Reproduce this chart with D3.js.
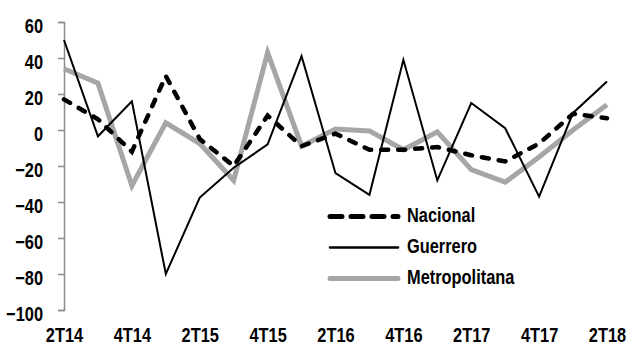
<!DOCTYPE html>
<html><head><meta charset="utf-8">
<script src="https://cdn.jsdelivr.net/npm/d3@7"></script>
<style>body{margin:0;background:#fff}svg{display:block}</style>
</head><body>
<svg id="c" width="627" height="348"></svg>
<script>
const quarters = ["2T14","3T14","4T14","1T15","2T15","3T15","4T15","1T16","2T16","3T16","4T16","1T17","2T17","3T17","4T17","1T18","2T18"];
const tickLabels = ["2T14","4T14","2T15","4T15","2T16","4T16","2T17","4T17","2T18"];
const yTicks = [60,40,20,0,-20,-40,-60,-80,-100];
const nacional = [17,6,-12,30,-5,-20,8,-9,-2,-11,-11,-9.5,-14,-17.5,-7.5,9,6.5];
const guerrero = [50,-3.5,16,-80,-37.5,-21,-8,41,-24,-36,39,-28,15,1,-37,9.5,27];
const metropolitana = [34,26,-31,4,-7.5,-28,43,-9,0.5,-0.5,-11,-1,-22,-29,-15,0,14];

const series = [
  {name:"Nacional", values:nacional, color:"#000", width:4.5, dash:"7,10", legDash:"12,9", cap:"round", legW:5},
  {name:"Guerrero", values:guerrero, color:"#000", width:2, dash:null, legDash:null, cap:"butt", legW:2.5},
  {name:"Metropolitana", values:metropolitana, color:"#a6a6a6", width:5, dash:null, legDash:null, cap:"butt", legW:5}
];
const FONT = "'Liberation Sans', Arial, sans-serif";
const SX = 0.82;
function narrow(sel){
  sel.each(function(){
    const t = d3.select(this);
    const xv = +(t.attr("x") || 0);
    t.attr("x", xv/SX).attr("transform", `scale(${SX},1)`);
  });
}

const svg = d3.select("#c");
const x = d3.scalePoint().domain(quarters).range([64,607]);
const y = d3.scaleLinear().domain([-100,60]).range([310,22]);

const yAxis = svg.append("g").attr("transform","translate(64,0)")
  .call(d3.axisLeft(y).tickValues(yTicks).tickSize(6).tickPadding(15).tickFormat(d3.format("d")));
yAxis.select(".domain").attr("stroke","#8c8c8c").attr("stroke-width",1.5);
yAxis.selectAll(".tick line").attr("stroke","#8c8c8c").attr("stroke-width",1.5);
yAxis.selectAll("text").attr("font-family",FONT)
  .attr("font-weight","bold").attr("font-size",20).attr("fill","#000").attr("dy","0.5em").call(narrow);

const xAxis = svg.append("g").attr("transform","translate(0,318)")
  .call(d3.axisBottom(x).tickValues(tickLabels).tickSize(0).tickPadding(10));
xAxis.select(".domain").remove();
xAxis.selectAll("text").attr("font-family",FONT)
  .attr("font-weight","bold").attr("font-size",20).attr("fill","#000").call(narrow);

const line = d3.line().x((d,i)=>x(quarters[i])).y(d=>y(d));
const order = [series[2], series[0], series[1]];
order.forEach(s=>{
  svg.append("path").datum(s.values).attr("d",line).attr("fill","none")
    .attr("stroke",s.color).attr("stroke-width",s.width)
    .attr("stroke-dasharray",s.dash).attr("stroke-linecap",s.cap).attr("stroke-linejoin","miter");
});

const leg = svg.append("g");
series.forEach((s,i)=>{
  const ly = 216.5 + i*31;
  leg.append("line").attr("x1",330).attr("x2",398).attr("y1",ly).attr("y2",ly)
    .attr("stroke",s.color).attr("stroke-width",s.legW).attr("stroke-dasharray",s.legDash)
    .attr("stroke-linecap","round");
  leg.append("text").attr("x",407).attr("y",ly).attr("dy","0.28em")
    .attr("font-family",FONT).attr("font-weight","bold")
    .attr("font-size",20).text(s.name).call(narrow);
});
</script>
</body></html>
